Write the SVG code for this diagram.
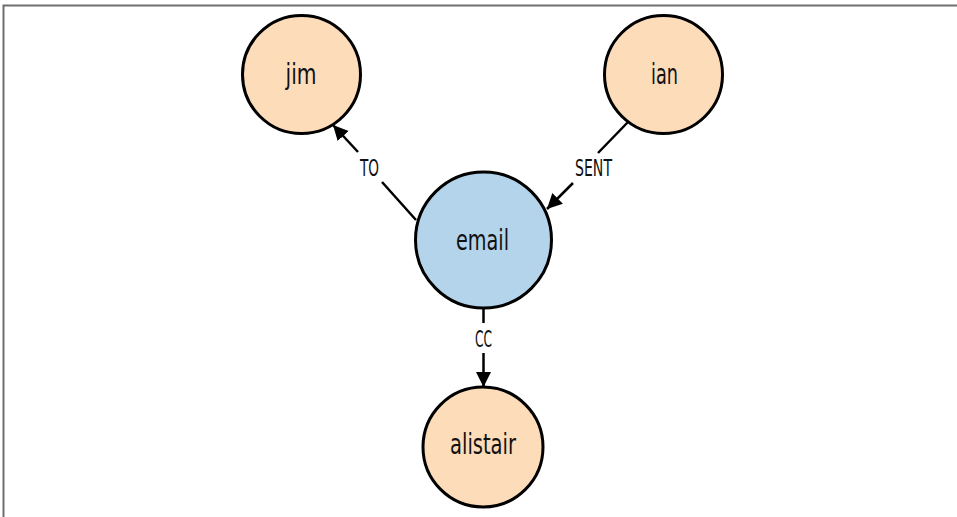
<svg xmlns="http://www.w3.org/2000/svg" width="957" height="517" viewBox="0 0 957 517">
<style>
.frame{stroke:#6e6e6e;stroke-width:2;fill:none}
.node{stroke:#000;stroke-width:3}
.person{fill:#fddcb9}
.msg{fill:#b3d4ea}
.nlabel{font-family:"Liberation Sans Narrow","DejaVu Sans Condensed","Liberation Sans",sans-serif;font-size:29px;fill:#111;text-anchor:middle}
.elabel{font-family:"Liberation Sans Narrow","DejaVu Sans Condensed","Liberation Sans",sans-serif;font-size:23px;fill:#111;text-anchor:middle}
.edge{stroke:#000;stroke-width:2.5;fill:none}
</style>
<defs>
<marker id="arrow" markerUnits="userSpaceOnUse" markerWidth="16" markerHeight="16" refX="15" refY="7.5" orient="auto">
<path d="M0,0 L15,7.5 L0,15 z" fill="#000"/>
</marker>
</defs>
<rect width="957" height="517" fill="#fff"/>
<path class="frame" d="M3.5,517 L3.5,5.5 L957,5.5"/>
<g id="connectors">
<g id="edge-to">
<line class="edge" x1="416" y1="220" x2="382" y2="182"/>
<line class="edge" x1="358" y1="152" x2="333" y2="125" marker-end="url(#arrow)"/>
<text class="elabel" x="369.5" y="176" textLength="19" lengthAdjust="spacingAndGlyphs">TO</text>
</g>
<g id="edge-sent">
<line class="edge" x1="628" y1="122" x2="598" y2="153"/>
<line class="edge" x1="573" y1="183" x2="547" y2="209" marker-end="url(#arrow)"/>
<text class="elabel" x="593.5" y="176" textLength="37" lengthAdjust="spacingAndGlyphs">SENT</text>
</g>
<g id="edge-cc">
<line class="edge" x1="483.5" y1="308" x2="483.5" y2="323"/>
<line class="edge" x1="483.5" y1="353" x2="483.5" y2="387" marker-end="url(#arrow)"/>
<text class="elabel" x="483.5" y="347" textLength="17" lengthAdjust="spacingAndGlyphs">CC</text>
</g>
</g>
<g id="node-jim">
<circle class="node person" cx="301.5" cy="74.5" r="59"/>
<text class="nlabel" x="301" y="84" textLength="31" lengthAdjust="spacingAndGlyphs">jim</text>
</g>
<g id="node-ian">
<circle class="node person" cx="663.5" cy="74.5" r="59"/>
<text class="nlabel" x="664.5" y="84" textLength="27" lengthAdjust="spacingAndGlyphs">ian</text>
</g>
<g id="node-email">
<circle class="node msg" cx="483.5" cy="240" r="68"/>
<text class="nlabel" x="482.5" y="250" textLength="53" lengthAdjust="spacingAndGlyphs">email</text>
</g>
<g id="node-alistair">
<circle class="node person" cx="483" cy="447" r="60"/>
<text class="nlabel" x="483" y="454" textLength="66" lengthAdjust="spacingAndGlyphs">alistair</text>
</g>
</svg>
